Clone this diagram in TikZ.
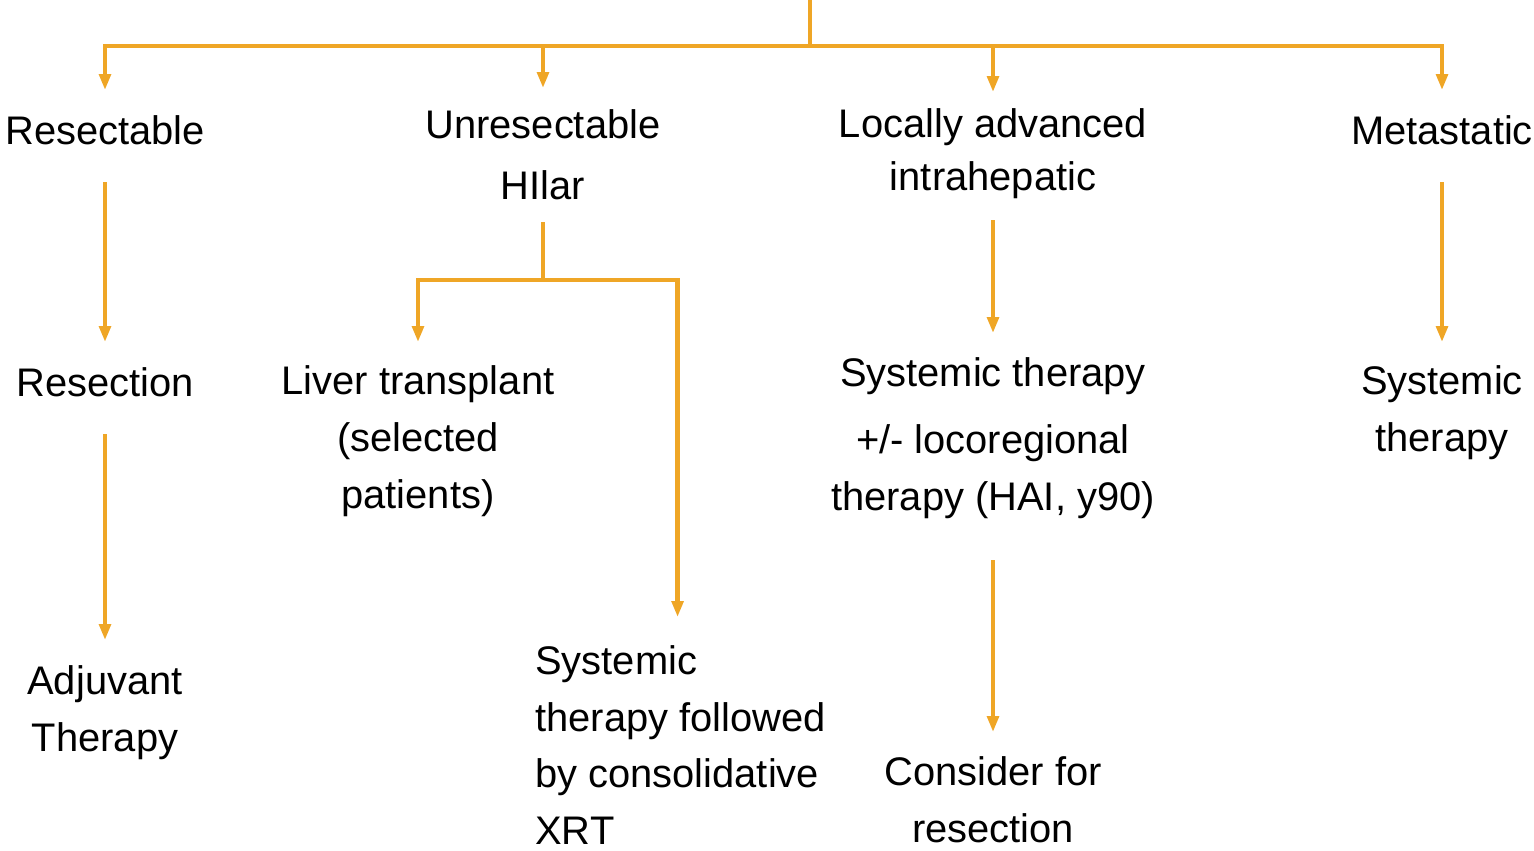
\documentclass[tikz,border=0pt]{standalone}
\usepackage{fontspec}
\setmainfont{Liberation Sans}
\usetikzlibrary{arrows.meta, calc, positioning}
\definecolor{floworange}{RGB}{239,166,38}

\begin{document}
\begin{tikzpicture}[x=0.02cm, y=-0.02cm,
  stage/.style={align=center, inner sep=0pt, font=\fontsize{22.7}{32.3}\selectfont},
  wire/.style={draw=floworange, line width=2.6pt},
  flow/.style={wire, -{Triangle[length=9pt, width=6.5pt]}}]
\useasboundingbox (0,0) rectangle (1534,850);

% Stages
\node[stage] (resectable) at (105,130) {Resectable};
\node[stage] (unres) at (543,155) {Unresectable\\[2.3pt]HIlar};
\node[stage] (locally) at (993,154) {Locally advanced\\[-2.3pt]intrahepatic};
\node[stage] (metastatic) at (1442,130) {Metastatic};

% Treatments
\node[stage] (resection) at (105,382) {Resection};
\node[stage] (liver) at (418,441) {Liver transplant\\(selected\\patients)};
\node[stage] (sysmid) at (993,438) {Systemic therapy\\[5.7pt]+/- locoregional\\therapy (HAI, y90)};
\node[stage] (sysright) at (1442,413) {Systemic\\therapy};

% Follow-up
\node[stage] (adjuvant) at (105,713) {Adjuvant\\Therapy};
\node[stage, align=left, anchor=west] (xrt) at (535,745) {Systemic\\therapy followed\\by consolidative\\XRT};
\node[stage] (consider) at (993,800) {Consider for\\resection};

% Top split
\coordinate (root) at (810,0);
\coordinate (bus) at (810,46);
\draw[flow] (root) |- (bus -| resectable) -- ($(resectable)+(0,-40)$);
\draw[flow] (root) |- (bus -| metastatic) -- ($(metastatic)+(0,-40)$);
\draw[flow] (bus -| unres) -- ($(unres)+(0,-67)$);
\draw[flow] (bus -| locally) -- ($(locally)+(0,-62)$);

% Resectable branch
\draw[flow] ($(resectable)+(0,52)$) -- ($(resection)+(0,-40)$);
\draw[flow] ($(resection)+(0,52)$) -- ($(adjuvant)+(0,-73)$);

% Hilar branch
\coordinate (split) at (543,280);
\draw[wire] ($(unres)+(0,67)$) -- (split);
\draw[flow] (split) -| ($(liver)+(0,-99)$);
\draw[flow] (split) -| ($(xrt)+(-3,-128)$);

% Locally advanced branch
\draw[flow] ($(locally)+(0,66)$) -- ($(sysmid)+(0,-105)$);
\draw[flow] ($(sysmid)+(0,122)$) -- ($(consider)+(0,-68)$);

% Metastatic branch
\draw[flow] ($(metastatic)+(0,52)$) -- ($(sysright)+(0,-71)$);
\end{tikzpicture}
\end{document}
